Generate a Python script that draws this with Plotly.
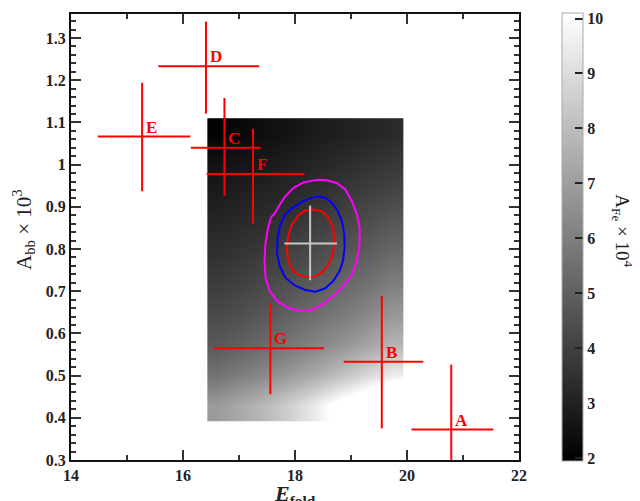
import plotly.graph_objects as go

# ---- Data ----
# Background map: A_Fe x 1e4 over (E_fold, A_bb x 1e3)
grid_E = [16.61, 16.96, 17.31, 17.66, 18.01, 18.36, 18.71, 19.06, 19.41, 19.76]
grid_A = [0.429, 0.501, 0.572, 0.644, 0.716, 0.787, 0.859, 0.931, 1.002, 1.074]
grid_AFe = [
    [6.90, 7.30, 7.70, 8.20, 8.80, 9.50, 10.30, 11.00, 11.70, 12.40],
    [5.65, 5.92, 6.25, 6.62, 7.02, 7.45, 7.95, 8.50, 9.05, 9.60],
    [4.82, 5.03, 5.30, 5.58, 5.88, 6.22, 6.58, 6.95, 7.36, 7.78],
    [4.30, 4.48, 4.70, 4.94, 5.21, 5.50, 5.79, 6.10, 6.47, 6.84],
    [3.87, 4.02, 4.21, 4.42, 4.65, 4.91, 5.15, 5.41, 5.72, 6.03],
    [3.50, 3.63, 3.79, 3.97, 4.17, 4.40, 4.61, 4.84, 5.09, 5.35],
    [3.17, 3.28, 3.41, 3.56, 3.73, 3.94, 4.14, 4.34, 4.55, 4.76],
    [2.85, 2.96, 3.06, 3.19, 3.34, 3.51, 3.69, 3.86, 4.04, 4.21],
    [2.53, 2.64, 2.74, 2.87, 3.01, 3.16, 3.31, 3.45, 3.60, 3.75],
    [2.05, 2.20, 2.35, 2.50, 2.65, 2.80, 2.93, 3.05, 3.17, 3.30],
]

# Observations with error bars (centre, lower end, upper end)
obs_labels = ["A", "B", "C", "D", "E", "F", "G"]
obs_E = [20.79, 19.55, 16.74, 16.41, 15.27, 17.25, 17.56]
obs_E_lo = [20.08, 18.87, 16.14, 15.56, 14.48, 16.42, 16.56]
obs_E_hi = [21.54, 20.29, 17.39, 17.36, 16.13, 18.17, 18.52]
obs_A = [0.372, 0.533, 1.040, 1.233, 1.0665, 0.978, 0.565]
obs_A_lo = [0.22, 0.375, 0.926, 1.121, 0.937, 0.860, 0.456]
obs_A_hi = [0.526, 0.689, 1.158, 1.339, 1.194, 1.085, 0.672]

# Best fit
best_E, best_E_lo, best_E_hi = [18.27], [17.81], [18.75]
best_A, best_A_lo, best_A_hi = [0.813], [0.726], [0.903]

# Confidence contours
c1_E = [18.332, 18.482, 18.600, 18.679, 18.702, 18.679, 18.600, 18.482, 18.332, 18.184,
        18.036, 17.929, 17.868, 17.857, 17.880, 17.946, 18.064, 18.184, 18.332]
c1_A = [0.8936, 0.8896, 0.8738, 0.8502, 0.8189, 0.7875, 0.7639, 0.7441, 0.7340, 0.7340,
        0.7403, 0.7559, 0.7795, 0.8031, 0.8307, 0.8582, 0.8802, 0.8913, 0.8936]
c2_E = [18.421, 18.541, 18.661, 18.761, 18.839, 18.880, 18.886, 18.857, 18.796, 18.689,
        18.541, 18.363, 18.184, 18.005, 17.827, 17.725, 17.679, 17.689, 17.738, 17.827,
        17.946, 18.036, 18.125, 18.214, 18.332, 18.421]
c2_A = [0.925, 0.921, 0.909, 0.890, 0.866, 0.835, 0.803, 0.772, 0.748, 0.725,
        0.707, 0.699, 0.703, 0.713, 0.732, 0.760, 0.791, 0.827, 0.858, 0.882,
        0.897, 0.905, 0.912, 0.917, 0.923, 0.925]
c3_E = [18.421, 18.571, 18.750, 18.898, 19.018, 19.107, 19.154, 19.154, 19.107, 19.018,
        18.868, 18.689, 18.511, 18.273, 18.064, 17.857, 17.679, 17.546, 17.475, 17.457,
        17.470, 17.518, 17.571, 17.648, 17.707, 17.827, 17.975, 18.154, 18.304, 18.421]
c3_A = [0.964, 0.963, 0.956, 0.941, 0.913, 0.882, 0.850, 0.811, 0.772, 0.740,
        0.713, 0.689, 0.670, 0.655, 0.654, 0.662, 0.677, 0.701, 0.732, 0.772,
        0.811, 0.850, 0.875, 0.886, 0.901, 0.925, 0.945, 0.958, 0.962, 0.964]

x_ticks = [14, 16, 18, 20, 22]
y_ticks = [0.3, 0.4, 0.5, 0.6, 0.7, 0.8, 0.9, 1.0, 1.1, 1.2, 1.3]
y_ticktext = ["0.3", "0.4", "0.5", "0.6", "0.7", "0.8", "0.9", "1", "1.1", "1.2", "1.3"]
cb_ticks = [2, 3, 4, 5, 6, 7, 8, 9, 10]

SERIF = "Liberation Serif"
RED = "#ff0000"

fig = go.Figure()

fig.add_trace(go.Heatmap(
    x=grid_E, y=grid_A, z=grid_AFe,
    zmin=1.95, zmax=10.1, zsmooth="best",
    colorscale=[[0, "#000000"], [1, "#ffffff"]],
    showscale=True,
    colorbar=dict(
        x=1.096, xanchor="left", xpad=0,
        y=0.5, yanchor="middle", ypad=0,
        len=448, lenmode="pixels",
        thickness=21, thicknessmode="pixels",
        outlinewidth=1, outlinecolor="#aaaaaa",
        tickvals=cb_ticks, ticks="inside", ticklen=8, tickwidth=1.5, tickcolor="#222",
        ticklabeloverflow="allow",
        tickfont=dict(family=SERIF, size=16, color="#222", weight="bold"),
    ),
    hoverinfo="skip",
))

for cx, cy, col in [(c3_E, c3_A, "#ff00ff"), (c2_E, c2_A, "#0000ff"), (c1_E, c1_A, "#ff0000")]:
    fig.add_trace(go.Scatter(x=cx, y=cy, mode="lines",
                             line=dict(color=col, width=2), showlegend=False))

# best fit cross
fig.add_trace(go.Scatter(
    x=best_E, y=best_A, mode="markers",
    marker=dict(size=1, color="rgba(0,0,0,0)"),
    error_x=dict(type="data", symmetric=False,
                 array=[best_E_hi[0] - best_E[0]], arrayminus=[best_E[0] - best_E_lo[0]],
                 width=0, thickness=2, color="#c8c8c8"),
    error_y=dict(type="data", symmetric=False,
                 array=[best_A_hi[0] - best_A[0]], arrayminus=[best_A[0] - best_A_lo[0]],
                 width=0, thickness=2, color="#c8c8c8"),
    showlegend=False,
))

# observation crosses
fig.add_trace(go.Scatter(
    x=obs_E, y=obs_A, mode="markers",
    marker=dict(size=1, color="rgba(0,0,0,0)"),
    error_x=dict(type="data", symmetric=False,
                 array=[h - c for h, c in zip(obs_E_hi, obs_E)],
                 arrayminus=[c - l for c, l in zip(obs_E, obs_E_lo)],
                 width=0, thickness=2, color=RED),
    error_y=dict(type="data", symmetric=False,
                 array=[h - c for h, c in zip(obs_A_hi, obs_A)],
                 arrayminus=[c - l for c, l in zip(obs_A, obs_A_lo)],
                 width=0, thickness=2, color=RED),
    showlegend=False,
))

annotations = []
for lab, ex, ay in zip(obs_labels, obs_E, obs_A):
    annotations.append(dict(
        x=ex, y=ay, xref="x", yref="y", text=lab, showarrow=False,
        xanchor="left", yanchor="bottom", xshift=2, yshift=-2,
        font=dict(family=SERIF, size=17, color=RED, weight="bold"),
    ))

# axis titles
annotations.append(dict(
    x=0.50, y=-0.042, xref="paper", yref="paper", showarrow=False,
    text="<i>E</i><sub>fold</sub>", xanchor="center", yanchor="top",
    font=dict(family=SERIF, size=22, color="#222", weight="bold"),
))
annotations.append(dict(
    x=-0.105, y=0.518, xref="paper", yref="paper", showarrow=False,
    text="A<sub>bb</sub> × 10<sup>3</sup>", textangle=-90,
    xanchor="center", yanchor="middle",
    font=dict(family=SERIF, size=21, color="#222"),
))
annotations.append(dict(
    x=1.232, y=0.513, xref="paper", yref="paper", showarrow=False,
    text="A<sub>Fe</sub> × 10<sup>4</sup>", textangle=90,
    xanchor="center", yanchor="middle",
    font=dict(family=SERIF, size=19, color="#222"),
))

axis_common = dict(
    showgrid=False, zeroline=False, showline=True, linecolor="#111", linewidth=2,
    mirror="allticks", ticks="inside", ticklen=10, tickwidth=1.5, tickcolor="#333",
    tickfont=dict(family=SERIF, size=16, color="#222", weight="bold"),
)

# The page body has an 8px margin, so the figure is sized to fill the rest of the window.
fig.update_layout(
    width=632, height=493,
    margin=dict(l=63, r=121, t=4, b=41),
    paper_bgcolor="white", plot_bgcolor="white",
    showlegend=False,
    xaxis=dict(range=[14, 22], tickvals=x_ticks,
               minor=dict(dtick=1, tick0=14, ticks="inside", ticklen=5, tickwidth=1.5, tickcolor="#333"),
               **axis_common),
    yaxis=dict(range=[0.3, 1.357], tickvals=y_ticks, ticktext=y_ticktext,
               minor=dict(dtick=0.02, tick0=0.3, ticks="inside", ticklen=5, tickwidth=1.5, tickcolor="#333"),
               **axis_common),
    annotations=annotations,
)

fig.write_html("out.html")
